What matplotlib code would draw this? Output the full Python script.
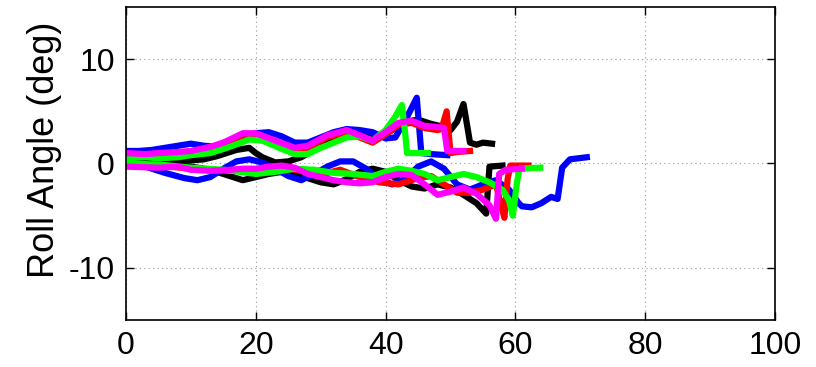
import matplotlib
matplotlib.use("Agg")
import matplotlib.pyplot as plt

# ---------------- data ----------------
black_up_x = [0, 2, 4, 6, 8, 10, 12, 14, 15, 17, 19, 20, 21, 23, 25, 27, 29, 31, 33, 35, 37, 39, 41, 43, 45, 47, 49, 50, 51, 52, 52.6, 53.0, 54, 55, 56.4]
black_up_y = [0.1, 0.2, 0.1, 0.2, 0.2, 0.3, 0.4, 0.7, 0.9, 1.3, 1.5, 1.0, 0.6, 0.1, 0.2, 0.6, 1.3, 2.0, 2.8, 3.2, 3.0, 2.5, 3.2, 4.0, 4.2, 3.8, 3.5, 3.2, 4.0, 5.7, 3.5, 2.0, 1.8, 2.0, 1.9]

black_lo_x = [0, 3, 5, 8, 10, 13, 16, 18, 20, 22, 24, 26, 28, 30, 32, 34, 36, 38, 40, 42, 44, 46, 48, 50, 52, 54, 55.5, 56.0, 58]
black_lo_y = [0.0, 0.1, -0.1, -0.2, -0.3, -0.6, -1.2, -1.6, -1.3, -1.0, -0.8, -1.0, -1.4, -1.8, -2.0, -1.5, -0.8, -0.5, -0.8, -1.6, -2.2, -2.4, -2.0, -2.3, -3.0, -3.8, -4.8, -0.3, -0.2]

blue_up_x = [0, 2, 4, 6, 8, 10, 12, 14, 17, 20, 22, 24, 26, 28, 30, 32, 34, 36, 38, 40, 41.5, 43.5, 44.8, 45.5, 47, 49.5]
blue_up_y = [1.2, 1.2, 1.3, 1.5, 1.7, 1.9, 1.7, 1.6, 2.0, 2.9, 3.0, 2.6, 2.0, 2.0, 2.5, 3.0, 3.3, 3.2, 3.0, 2.4, 2.5, 4.7, 6.3, 1.0, 0.9, 0.8]

blue_lo_x = [0, 3, 6, 9, 11, 13, 15, 17, 19, 21, 23, 25, 27, 29, 31, 33, 35, 37, 39, 41, 43, 45, 47, 49, 51, 53, 55, 57, 59, 60.5, 61, 62.5, 64, 65.5, 66.5, 67.2, 68.4, 71]
blue_lo_y = [-0.2, -0.3, -0.9, -1.4, -1.6, -1.3, -0.5, 0.2, 0.4, 0.1, -0.5, -1.2, -1.6, -1.0, -0.3, 0.2, 0.2, -0.5, -1.5, -2.0, -1.5, -0.3, 0.2, -0.5, -2.0, -2.5, -2.0, -1.6, -2.5, -3.8, -4.1, -4.2, -3.8, -3.2, -3.4, -0.4, 0.4, 0.6]

red_up_x = [0, 5, 10, 15, 18, 20, 23, 26, 28, 31, 34, 36, 38, 40, 42, 44, 46, 48, 48.6, 49.4, 50.0, 51, 53]
red_up_y = [0.8, 0.8, 1.0, 1.8, 2.7, 2.7, 2.0, 1.3, 1.5, 2.5, 3.0, 2.5, 2.0, 2.8, 3.7, 3.9, 3.4, 3.2, 3.3, 5.0, 1.0, 1.1, 1.2]

red_lo_x = [0, 5, 10, 15, 20, 25, 28, 31, 33, 36, 39, 42, 45, 47, 49, 51, 53, 55, 57, 57.8, 58.3, 58.8, 59.2, 62]
red_lo_y = [-0.1, -0.2, -0.5, -0.7, -0.6, -0.5, -0.8, -0.9, -0.6, -1.3, -1.8, -2.0, -1.4, -1.2, -2.0, -2.8, -2.8, -2.5, -2.0, -4.0, -5.2, -1.5, -0.2, -0.2]

green_up_x = [0, 3, 5, 8, 10, 13, 16, 19, 21, 24, 26, 28, 30, 32, 34, 36, 38, 40, 41.5, 42.5, 43.0, 43.3, 46.5]
green_up_y = [0.5, 0.6, 0.5, 0.6, 0.8, 1.0, 1.6, 2.3, 2.2, 1.4, 0.9, 0.9, 1.5, 2.0, 2.5, 2.6, 2.2, 3.2, 4.5, 5.6, 3.0, 1.0, 1.0]

green_lo_x = [0, 5, 10, 15, 20, 23, 26, 29, 32, 35, 38, 40, 42, 44, 46, 48, 50, 52, 54, 56, 58, 59, 59.6, 60.2, 60.6, 63.8]
green_lo_y = [0.0, -0.1, -0.4, -0.6, -1.0, -0.8, -0.5, -0.6, -0.9, -1.0, -1.2, -0.8, -0.5, -0.7, -1.0, -1.6, -1.3, -1.0, -1.3, -1.8, -2.5, -3.5, -5.0, -2.0, -0.5, -0.4]

magenta_up_x = [0, 3, 5, 8, 10, 13, 15, 18, 20, 23, 26, 28, 31, 34, 36, 38, 40, 42, 44, 46, 48, 49, 49.5, 52]
magenta_up_y = [1.0, 0.9, 1.0, 1.1, 1.2, 1.6, 2.0, 2.9, 2.9, 2.2, 1.5, 1.7, 2.7, 3.2, 2.7, 2.2, 3.0, 3.9, 4.1, 3.6, 3.5, 3.4, 1.2, 1.2]

magenta_lo_x = [0, 5, 8, 10, 13, 16, 18, 20, 22, 24, 26, 28, 30, 32, 34, 36, 38, 40, 42, 44, 46, 48, 50, 52, 54, 56, 57, 57.5, 58.5, 61]
magenta_lo_y = [-0.3, -0.4, -0.3, -0.6, -0.7, -0.6, -0.5, -0.5, -0.3, -0.2, -0.4, -1.0, -1.3, -1.6, -1.8, -1.9, -1.8, -1.3, -1.0, -1.1, -2.0, -3.0, -2.7, -2.3, -2.9, -4.0, -5.3, -1.0, -0.6, -0.5]

x_ticks = [0, 20, 40, 60, 80, 100]
y_ticks = [-10, 0, 10]
y_label = "Roll Angle (deg)"

# ---------------- plot ----------------
plt.rcParams['font.family'] = ['Liberation Sans', 'DejaVu Sans']
plt.rcParams['axes.unicode_minus'] = False
fig = plt.figure(figsize=(8.16, 3.67), dpi=100)
ax = fig.add_axes([0.1544, 0.128, 0.7954, 0.853])

series = [
    ("#000000", black_up_x, black_up_y), ("#000000", black_lo_x, black_lo_y),
    ("#0000ff", blue_up_x, blue_up_y), ("#0000ff", blue_lo_x, blue_lo_y),
    ("#ff0000", red_up_x, red_up_y), ("#ff0000", red_lo_x, red_lo_y),
    ("#00ff00", green_up_x, green_up_y), ("#00ff00", green_lo_x, green_lo_y),
    ("#ff00ff", magenta_up_x, magenta_up_y), ("#ff00ff", magenta_lo_x, magenta_lo_y),
]
for c, xs, ys in series:
    ax.plot(xs, ys, color=c, lw=4.5, solid_joinstyle='round')

ax.set_xlim(0, 100)
ax.set_ylim(-15, 15)
ax.set_xticks(x_ticks)
ax.set_yticks(y_ticks)
ax.set_ylabel(y_label, fontsize=26)
ax.yaxis.set_label_coords(-0.098, 0.543)
ax.tick_params(direction='in', length=6, width=1, top=True, right=True,
               labelsize=23, pad=8)
ax.grid(True, linestyle=(0, (1, 3)), color='#999999', linewidth=0.8)
for s in ax.spines.values():
    s.set_linewidth(1.2)

fig.savefig("out.png", dpi=100)
